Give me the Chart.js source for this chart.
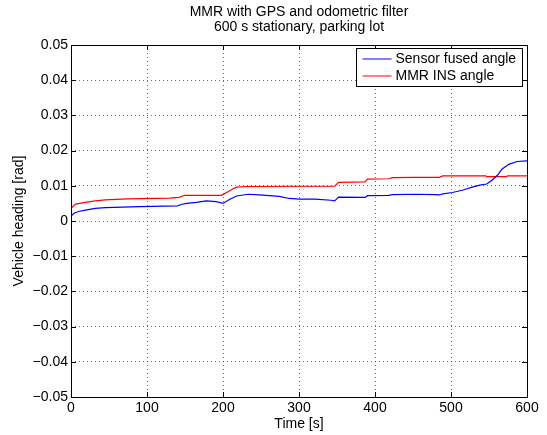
<!DOCTYPE html>
<html>
<head>
<meta charset="utf-8">
<script src="https://cdn.jsdelivr.net/npm/chart.js@4.4.1/dist/chart.umd.min.js"></script>
<style>
  html, body { margin: 0; padding: 0; background: #ffffff; }
  #headingChart { display: block; }
</style>
</head>
<body>
<canvas id="headingChart" width="547" height="435"></canvas>
<script>
// Sensor fused angle (blue) - time [s] and heading [rad]
const fusedTime = [0, 4, 10, 19, 32, 45, 90, 140, 145, 152, 165, 178, 191, 200, 209, 218, 233, 248, 274, 287, 301, 321, 342, 347, 352, 387, 390, 418, 423, 452, 480, 485, 489, 502, 516, 529, 538, 547, 554, 561, 567, 576, 587, 600];
const fusedAngle = [0.0014, 0.0022, 0.0027, 0.0031, 0.0036, 0.0038, 0.0041, 0.0043, 0.0047, 0.0050, 0.0053, 0.0057, 0.0055, 0.0050, 0.0062, 0.0071, 0.0076, 0.0074, 0.0070, 0.0064, 0.0062, 0.0062, 0.0059, 0.0057, 0.0068, 0.0067, 0.0072, 0.0073, 0.0075, 0.0076, 0.0075, 0.0074, 0.0077, 0.0081, 0.0088, 0.0097, 0.0102, 0.0105, 0.0116, 0.0130, 0.0147, 0.0161, 0.0169, 0.0171];

// MMR INS angle (red)
const insTime = [0, 6, 19, 32, 45, 75, 130, 142, 150, 198, 205, 212, 218, 231, 347, 352, 387, 390, 418, 423, 452, 485, 489, 546, 547, 573, 574, 600];
const insAngle = [0.0036, 0.0048, 0.0053, 0.0057, 0.0060, 0.0063, 0.0065, 0.0067, 0.0073, 0.0073, 0.0081, 0.0090, 0.0096, 0.0098, 0.0099, 0.0110, 0.0111, 0.0119, 0.0120, 0.0123, 0.0124, 0.0124, 0.0128, 0.0128, 0.0126, 0.0126, 0.0128, 0.0128];

const seriesLabels = ['Sensor fused angle', 'MMR INS angle'];
const titleLines = ['MMR with GPS and odometric filter', '600 s stationary, parking lot'];

const FONT = "'Liberation Sans', Arial, Helvetica, sans-serif";

function toPoints(xs, ys) {
  return xs.map((x, i) => ({ x: x, y: ys[i] }));
}

// Matlab style: title over the axes, box with inward ticks, legend inside
const matlabFrame = {
  id: 'matlabFrame',
  afterDraw(chart) {
    const { ctx, chartArea: a, scales } = chart;
    ctx.save();

    // title centred on the plot area
    ctx.fillStyle = '#000000';
    ctx.font = '14px ' + FONT;
    ctx.textAlign = 'center';
    ctx.textBaseline = 'middle';
    const cx = (a.left + a.right) / 2;
    titleLines.forEach((line, i) => ctx.fillText(line, cx, 12 + i * 15));

    ctx.strokeStyle = '#000000';
    ctx.lineWidth = 1;
    ctx.beginPath();
    scales.x.ticks.forEach(t => {
      const px = Math.round(scales.x.getPixelForValue(t.value)) + 0.5;
      ctx.moveTo(px, a.bottom); ctx.lineTo(px, a.bottom - 5);
      ctx.moveTo(px, a.top); ctx.lineTo(px, a.top + 5);
    });
    scales.y.ticks.forEach(t => {
      const py = Math.round(scales.y.getPixelForValue(t.value)) + 0.5;
      ctx.moveTo(a.left, py); ctx.lineTo(a.left + 5, py);
      ctx.moveTo(a.right, py); ctx.lineTo(a.right - 5, py);
    });
    ctx.stroke();
    ctx.strokeRect(Math.round(a.left) + 0.5, Math.round(a.top) + 0.5,
      Math.round(a.right - a.left), Math.round(a.bottom - a.top));

    // legend box
    const bx = 356.5, by = 48.5, bw = 166, bh = 38;
    ctx.fillStyle = '#ffffff';
    ctx.fillRect(bx, by, bw, bh);
    ctx.strokeRect(bx, by, bw, bh);
    ctx.font = '14px ' + FONT;
    ctx.textAlign = 'left';
    chart.data.datasets.forEach((ds, i) => {
      const ly = by + 10.5 + i * 17;
      ctx.strokeStyle = ds.borderColor;
      ctx.beginPath();
      ctx.moveTo(bx + 6, ly); ctx.lineTo(bx + 35, ly);
      ctx.stroke();
      ctx.fillStyle = '#000000';
      ctx.fillText(ds.label, bx + 39, ly + 0.5);
    });
    ctx.restore();
  }
};

new Chart(document.getElementById('headingChart'), {
  type: 'line',
  data: {
    datasets: [{
      label: seriesLabels[0],
      data: toPoints(fusedTime, fusedAngle),
      borderColor: '#0000ff',
      borderWidth: 1.2,
      pointRadius: 0,
      tension: 0
    }, {
      label: seriesLabels[1],
      data: toPoints(insTime, insAngle),
      borderColor: '#ff0000',
      borderWidth: 1.2,
      pointRadius: 0,
      tension: 0
    }]
  },
  plugins: [matlabFrame],
  options: {
    responsive: false,
    devicePixelRatio: 1,
    animation: false,
    layout: { padding: { left: 0, right: 20, top: 45, bottom: 0 } },
    plugins: {
      legend: { display: false },
      tooltip: { enabled: false },
      title: { display: false }
    },
    scales: {
      x: {
        type: 'linear',
        min: 0,
        max: 600,
        ticks: {
          stepSize: 100,
          color: '#000000',
          padding: 3,
          maxRotation: 0,
          font: { family: FONT, size: 14 }
        },
        grid: { color: 'rgba(0,0,0,0.55)', drawTicks: false },
        border: { display: false, dash: [1, 3] },
        title: {
          display: true,
          text: 'Time [s]',
          color: '#000000',
          font: { family: FONT, size: 14 },
          padding: { top: 0, bottom: 2 }
        },
        afterFit(scale) { scale.height = 38; }
      },
      y: {
        min: -0.05,
        max: 0.05,
        ticks: {
          stepSize: 0.01,
          color: '#000000',
          padding: 3,
          font: { family: FONT, size: 14 },
          callback: v => {
            const r = Math.round(v * 100) / 100;
            return r === 0 ? '0' : (r < 0 ? '\u2212' + Math.abs(r).toFixed(2) : r.toFixed(2));
          }
        },
        grid: { color: 'rgba(0,0,0,0.55)', drawTicks: false },
        border: { display: false, dash: [1, 3] },
        title: {
          display: true,
          text: 'Vehicle heading [rad]',
          color: '#000000',
          font: { family: FONT, size: 14 },
          padding: { top: 11, bottom: 0 }
        },
        afterFit(scale) { scale.width = 71; }
      }
    }
  }
});
</script>
</body>
</html>
